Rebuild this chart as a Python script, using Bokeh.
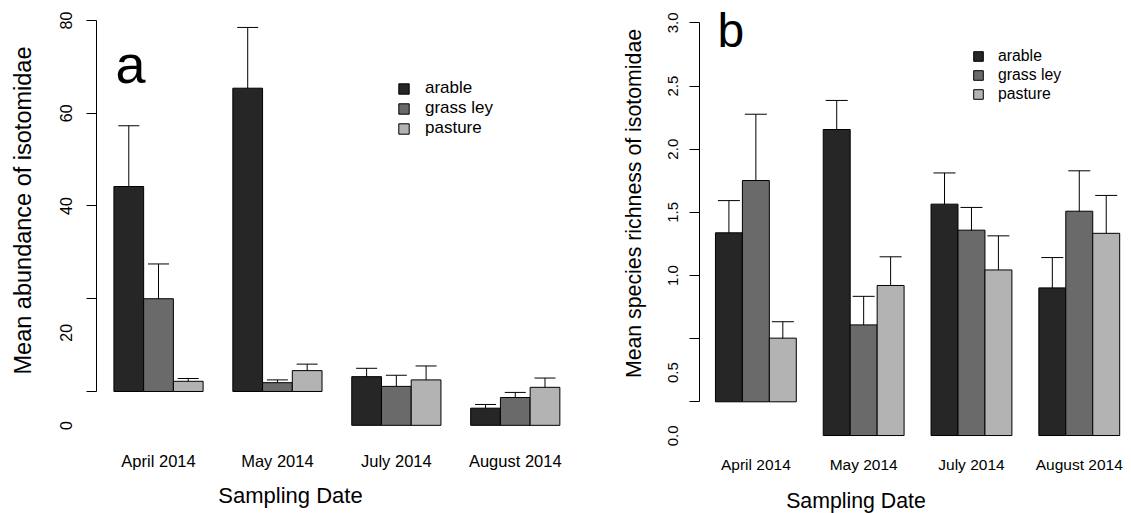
import math

from bokeh.embed import file_html
from bokeh.layouts import row
from bokeh.models import (ColumnDataSource, FixedTicker, Label, Legend, LegendItem,
                          LinearAxis, Range1d, TeeHead, Whisker)
from bokeh.plotting import figure
from bokeh.resources import INLINE

FONT = "Liberation Sans"
HEIGHT = 513

dates = ["April 2014", "May 2014", "July 2014", "August 2014"]
land_uses = ["arable", "grass ley", "pasture"]
fills = ["#262626", "#6a6a6a", "#b3b3b3"]

# (a) mean abundance of isotomidae with standard errors
abund_mean = {
    "arable":    [44.2, 65.4, 10.5, 3.7],
    "grass ley": [20.0, 1.9, 8.4, 6.0],
    "pasture":   [2.2, 4.5, 9.8, 8.2],
}
abund_se = {
    "arable":    [13.1, 13.1, 1.8, 0.8],
    "grass ley": [7.5, 0.6, 2.4, 1.1],
    "pasture":   [0.6, 1.4, 3.0, 2.0],
}
abund_base = [0, 0, -7.3, -7.3]          # baseline of each date group
abund_ticks = [0, 20, 40, 60, 80]
abund_tick_labels = ["0", "20", "40", "60", "80"]
abund_label_low = [True, True, False, False, False]

# (b) mean species richness of isotomidae with standard errors
rich_mean = {
    "arable":    [1.338, 2.156, 1.565, 0.902],
    "grass ley": [1.752, 0.609, 1.359, 1.509],
    "pasture":   [0.504, 0.921, 1.044, 1.334],
}
rich_se = {
    "arable":    [0.255, 0.230, 0.247, 0.240],
    "grass ley": [0.525, 0.226, 0.180, 0.320],
    "pasture":   [0.130, 0.227, 0.270, 0.300],
}
rich_floor = [0, -0.267, -0.267, -0.267]  # bar bottoms of each date group
rich_ticks = [0, 0.5, 1.0, 1.5, 2.0, 2.5, 3.0]
rich_tick_labels = ["0.0", "0.5", "1.0", "1.5", "2.0", "2.5", "3.0"]
rich_label_low = [True, True, False, False, False, False, False]

GROUP_CENTERS = [2.5, 6.5, 10.5, 14.5]


def panel(width, xr, yr, bars, tick_info, xaxis_y, ytitle, letter, fs):
    p = figure(width=width, height=HEIGHT, x_range=Range1d(*xr), y_range=Range1d(*yr),
               min_border_left=0, min_border_right=0, min_border_top=0,
               min_border_bottom=0, x_axis_type=None, y_axis_type=None,
               toolbar_location=None, output_backend="svg", outline_line_color=None)
    p.xgrid.visible = False
    p.ygrid.visible = False

    # bars, one renderer per land use
    items = []
    for j, lu in enumerate(land_uses):
        xs = [1.5 + 4 * g + j for g in range(4)]
        bottoms, tops = bars[lu]
        r = p.vbar(x=xs, bottom=bottoms, top=tops, width=1.0, fill_color=fills[j],
                   line_color="black", line_width=1)
        items.append(LegendItem(label=lu, renderers=[r]))

    # standard error bars
    for j, lu in enumerate(land_uses):
        xs = [1.5 + 4 * g + j for g in range(4)]
        src = ColumnDataSource(dict(x=xs, lower=bars["_lo"][lu], upper=bars["_hi"][lu]))
        p.add_layout(Whisker(base="x", lower="lower", upper="upper", source=src,
                             dimension="height", line_color="black", line_width=1,
                             upper_head=TeeHead(size=fs["cap"], line_color="black", line_width=1),
                             lower_head=TeeHead(size=fs["cap"], line_color="black", line_width=1)))

    # y axis: ticks and line only over the data span
    ticks, labels, low, lab_x, scale = tick_info
    yax = LinearAxis(ticker=FixedTicker(ticks=ticks), bounds=(ticks[0], ticks[-1]),
                     fixed_location=0.4, major_tick_out=10, major_tick_in=0,
                     minor_tick_line_color=None, major_label_text_color=None,
                     axis_line_color="black", major_tick_line_color="black")
    p.add_layout(yax, "left")
    for v, t, is_low in zip(ticks, labels, low):
        p.add_layout(Label(x=lab_x, x_units="screen", y=v - (34 / scale if is_low else 0),
                           y_units="data", text=t, angle=math.pi / 2,
                           text_align="center", text_baseline="middle", text_color="black",
                           text_font=FONT, text_font_size=fs["ytick"]))

    # x axis with the sampling dates
    xax = LinearAxis(ticker=FixedTicker(ticks=GROUP_CENTERS), fixed_location=xaxis_y,
                     major_label_overrides={c: d for c, d in zip(GROUP_CENTERS, dates)},
                     axis_line_color=None, major_tick_line_color=None,
                     minor_tick_line_color=None, major_label_standoff=fs["xstand"],
                     major_label_text_font=FONT, major_label_text_font_size=fs["xtick"],
                     major_label_text_color="black",
                     axis_label="Sampling Date", axis_label_text_font=FONT,
                     axis_label_text_font_style="normal", axis_label_text_color="black",
                     axis_label_text_font_size=fs["title"],
                     axis_label_standoff=fs["tstand"])
    p.add_layout(xax, "below")

    tx, ty, text = ytitle
    p.add_layout(Label(x=tx, y=HEIGHT - ty, x_units="screen", y_units="screen", text=text,
                       angle=math.pi / 2, text_align="center", text_baseline="middle",
                       text_color="black", text_font=FONT, text_font_size=fs["ytitle"]))

    lx, ly, ltext = letter
    p.add_layout(Label(x=lx, y=HEIGHT - ly, x_units="screen", y_units="screen", text=ltext,
                       text_align="left", text_baseline="alphabetic", text_color="black",
                       text_font=FONT, text_font_size=fs["letter"]))

    leg = Legend(items=items, location=fs["legloc"], orientation="vertical",
                 glyph_width=fs["glyph"], glyph_height=fs["glyph"],
                 label_height=fs["glyph"], spacing=fs["lspace"], padding=0, margin=0,
                 border_line_color=None, background_fill_alpha=0,
                 label_standoff=fs["lstand"], label_text_font=FONT,
                 label_text_color="black",
                 label_text_font_size=fs["legend"], label_text_baseline="middle")
    p.add_layout(leg)
    return p


def stack(mean, se, base, floor_only):
    bars = {"_lo": {}, "_hi": {}}
    for lu in land_uses:
        if floor_only:
            tops = list(mean[lu])
        else:
            tops = [b + m for b, m in zip(base, mean[lu])]
        bars[lu] = (list(base), tops)
        bars["_lo"][lu] = [t - s for t, s in zip(tops, se[lu])]
        bars["_hi"][lu] = [t + s for t, s in zip(tops, se[lu])]
    return bars


bars_a = stack(abund_mean, abund_se, abund_base, floor_only=False)
bars_b = stack(rich_mean, rich_se, rich_floor, floor_only=True)

# panel (a): 29.73 px per bar, 4.6375 px per abundance unit
pa = panel(580, (-2.815, 16.694), (-26.31, 84.31), bars_a,
           (abund_ticks, abund_tick_labels, abund_label_low, 65, 4.6375),
           -10.566,
           (22, 210, "Mean abundance of isotomidae"),
           (115, 63, "a"),
           dict(cap=21, ytick="16px", xtick="16.5px", xstand=6, title="22px",
                tstand=9, ytitle="23.5px", letter="54px", glyph=13, lspace=0, lstand=15,
                legend="17px", legloc=(397, 375)))

# panel (b): 26.95 px per bar, 126.3 px per richness unit
pb = panel(551, (-4.007, 16.438), (-0.8844, 3.1774), bars_b,
           (rich_ticks, rich_tick_labels, rich_label_low, 92, 126.3),
           -0.3064,
           (53, 203, "Mean species richness of isotomidae"),
           (137, 30, "b"),
           dict(cap=22, ytick="15px", xtick="15.5px", xstand=10, title="21.3px",
                tstand=12, ytitle="21.3px", letter="48px", glyph=12, lspace=1, lstand=14,
                legend="15.8px", legloc=(392, 410)))

layout = row(pa, pb)
open("out.html", "w").write(file_html(layout, INLINE))
